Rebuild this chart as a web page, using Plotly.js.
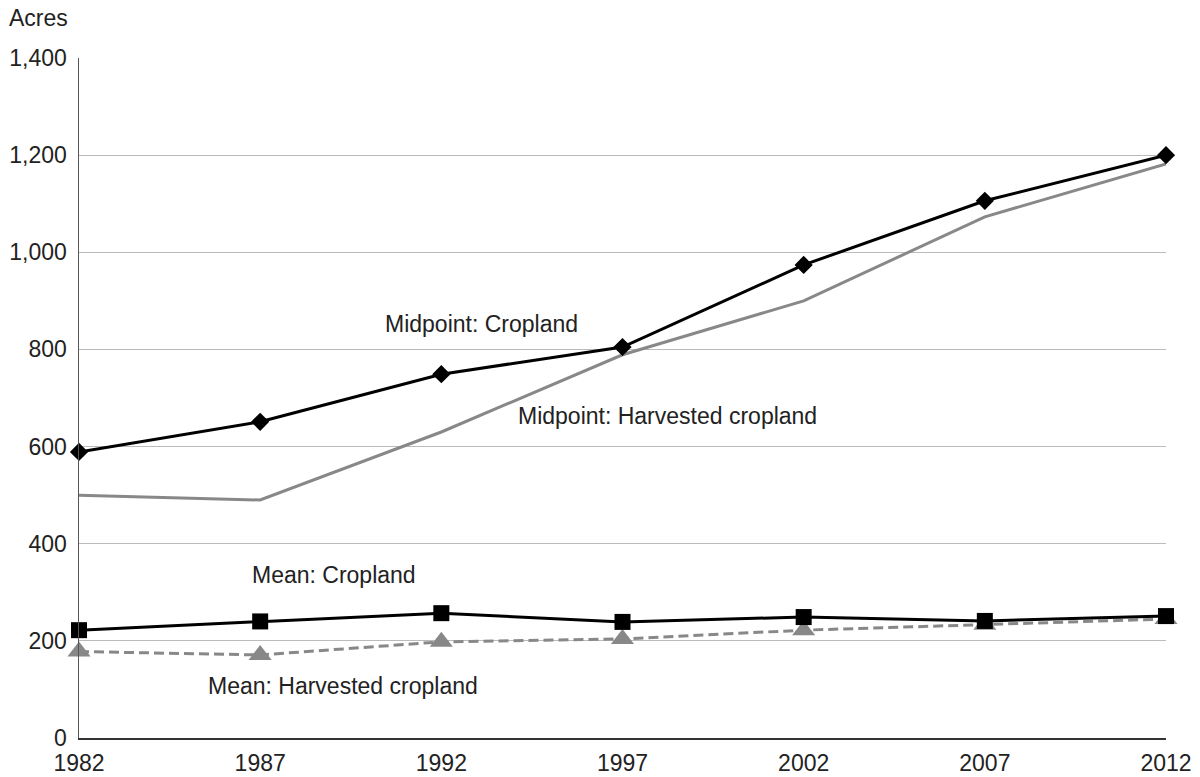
<!DOCTYPE html>
<html>
<head>
<meta charset="utf-8">
<script src="https://cdn.plot.ly/plotly-3.0.1.min.js"></script>
<style>html,body{margin:0;padding:0;background:#fff}#chart{width:1200px;height:777px}</style>
</head>
<body>
<div id="chart"></div>
<script>
const years = [1982, 1987, 1992, 1997, 2002, 2007, 2012];
const midpointCropland = [589, 651, 749, 805, 974, 1106, 1200];
const midpointHarvested = [500, 490, 630, 789, 900, 1073, 1182];
const meanCropland = [222, 240, 257, 239, 249, 241, 251];
const meanHarvested = [178, 171, 198, 204, 222, 233, 245];
const yTicks = [0, 200, 400, 600, 800, 1000, 1200, 1400];
const yTickLabels = ['0', '200', '400', '600', '800', '1,000', '1,200', '1,400'];
const xTickLabels = ['1982', '1987', '1992', '1997', '2002', '2007', '2012'];

const FONT = 'Liberation Sans, Arial, Helvetica, sans-serif';
const FS = 23;

const traces = [
  {x: years, y: midpointHarvested, type: 'scatter', mode: 'lines', name: 'Midpoint: Harvested cropland',
   line: {color: '#888888', width: 3}, cliponaxis: false},
  {x: years, y: midpointCropland, type: 'scatter', mode: 'lines+markers', name: 'Midpoint: Cropland',
   line: {color: '#000000', width: 3}, marker: {symbol: 'diamond', size: 14, color: '#000000'}, cliponaxis: false},
  {x: years, y: meanHarvested, type: 'scatter', mode: 'lines+markers', name: 'Mean: Harvested cropland',
   line: {color: '#888888', width: 3, dash: '10px,5px'}, marker: {symbol: 'triangle-up', size: 20, color: '#888888'}, cliponaxis: false},
  {x: years, y: meanCropland, type: 'scatter', mode: 'lines+markers', name: 'Mean: Cropland',
   line: {color: '#000000', width: 3}, marker: {symbol: 'square', size: 16, color: '#000000'}, cliponaxis: false}
];

const annFont = {family: FONT, size: FS, color: '#222222'};
const layout = {
  width: 1200, height: 777,
  margin: {l: 79, r: 34, t: 58, b: 39},
  paper_bgcolor: '#ffffff', plot_bgcolor: '#ffffff',
  showlegend: false,
  font: {family: FONT, size: FS, color: '#222222'},
  xaxis: {
    range: [1982, 2012], tickvals: years, ticktext: xTickLabels,
    showgrid: false, zeroline: false, showline: true, linecolor: '#333333', linewidth: 2,
    ticks: '', ticklabelstandoff: 3, tickfont: {family: FONT, size: FS, color: '#222222'}
  },
  yaxis: {
    range: [0, 1400], tickvals: yTicks, ticktext: yTickLabels,
    showgrid: true, gridcolor: '#bbbbbb', gridwidth: 1, zeroline: false,
    showline: true, linecolor: '#555555', linewidth: 1.5,
    ticks: '', ticklabelstandoff: 6, tickfont: {family: FONT, size: FS, color: '#222222'}
  },
  annotations: [
    {text: 'Acres', xref: 'paper', yref: 'paper', x: -0.066, y: 1.059, xanchor: 'left', yanchor: 'middle', showarrow: false, font: annFont},
    {text: 'Midpoint: Cropland', xref: 'x', yref: 'y', x: 1993.1, y: 852, showarrow: false, font: annFont},
    {text: 'Midpoint: Harvested cropland', xref: 'x', yref: 'y', x: 1998.25, y: 663, showarrow: false, font: annFont},
    {text: 'Mean: Cropland', xref: 'x', yref: 'y', x: 1989.04, y: 335, showarrow: false, font: annFont},
    {text: 'Mean: Harvested cropland', xref: 'x', yref: 'y', x: 1989.28, y: 107, showarrow: false, font: annFont}
  ]
};

Plotly.newPlot('chart', traces, layout, {displayModeBar: false, staticPlot: true});
</script>
</body>
</html>
